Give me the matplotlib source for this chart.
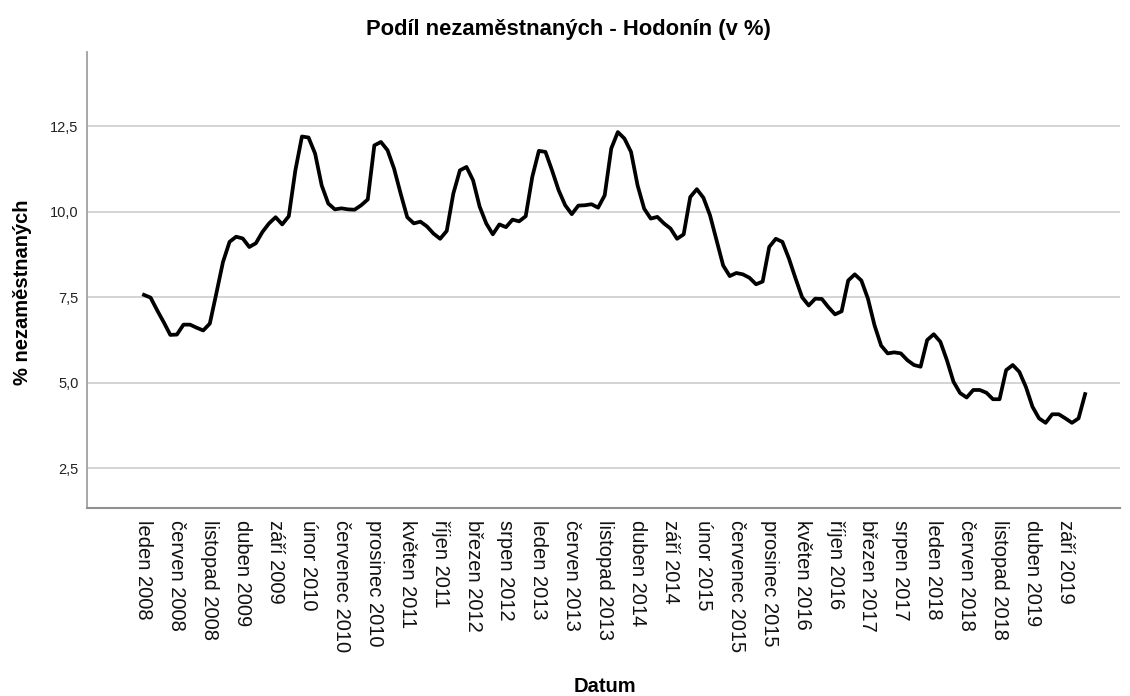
import matplotlib
matplotlib.use("Agg")
import matplotlib.pyplot as plt
import numpy as np

plt.rcParams['font.family'] = ['Liberation Sans', 'DejaVu Sans']

title = "Podíl nezaměstnaných - Hodonín (v %)"
x_label = "Datum"
y_label = "% nezaměstnaných"

# monthly share of unemployed, leden 2008 .. prosinec 2019
values = [
    7.57, 7.49, 7.12, 6.77, 6.40, 6.41, 6.70, 6.70, 6.61, 6.53, 6.73, 7.62,
    8.53, 9.12, 9.27, 9.22, 8.97, 9.08, 9.41, 9.66, 9.84, 9.63, 9.87, 11.21,
    12.20, 12.17, 11.70, 10.77, 10.24, 10.07, 10.10, 10.07, 10.06, 10.19, 10.36, 11.94,
    12.04, 11.80, 11.26, 10.53, 9.84, 9.66, 9.71, 9.57, 9.36, 9.21, 9.44, 10.53,
    11.21, 11.31, 10.92, 10.15, 9.66, 9.34, 9.63, 9.55, 9.77, 9.72, 9.87, 11.02,
    11.78, 11.75, 11.21, 10.63, 10.19, 9.93, 10.18, 10.19, 10.22, 10.12, 10.48, 11.85,
    12.33, 12.14, 11.75, 10.77, 10.09, 9.80, 9.85, 9.66, 9.51, 9.21, 9.34, 10.43,
    10.66, 10.41, 9.90, 9.16, 8.43, 8.12, 8.21, 8.17, 8.07, 7.88, 7.96, 8.97,
    9.21, 9.12, 8.63, 8.05, 7.50, 7.26, 7.46, 7.45, 7.21, 7.00, 7.09, 7.99,
    8.17, 7.99, 7.46, 6.68, 6.09, 5.86, 5.89, 5.86, 5.66, 5.52, 5.47, 6.25,
    6.42, 6.20, 5.66, 5.03, 4.70, 4.57, 4.79, 4.79, 4.71, 4.52, 4.52, 5.37,
    5.52, 5.32, 4.88, 4.30, 3.96, 3.83, 4.08, 4.08, 3.96, 3.83, 3.96, 4.67,
]

tick_labels = [
    "leden 2008", "červen 2008", "listopad 2008", "duben 2009", "září 2009",
    "únor 2010", "červenec 2010", "prosinec 2010", "květen 2011", "říjen 2011",
    "březen 2012", "srpen 2012", "leden 2013", "červen 2013", "listopad 2013",
    "duben 2014", "září 2014", "únor 2015", "červenec 2015", "prosinec 2015",
    "květen 2016", "říjen 2016", "březen 2017", "srpen 2017", "leden 2018",
    "červen 2018", "listopad 2018", "duben 2019", "září 2019",
]
tick_step = 5  # months between labels

y_ticks = [2.5, 5.0, 7.5, 10.0, 12.5]

fig = plt.figure(figsize=(11.3, 6.96), dpi=100)
ax = fig.add_axes([87/1130, 1 - 508/696, (1120 - 87)/1130, (508 - 52)/696])

x = np.arange(len(values))
ax.plot(x, values, color='black', linewidth=2.7, solid_joinstyle='round', zorder=3)

ax.set_xlim(-8.66, 148.3)
ax.set_ylim(1.34, 14.67)

ax.set_yticks(y_ticks)
ax.set_yticklabels([f"{v:.1f}".replace('.', ',') for v in y_ticks], fontsize=10.5, color='#222222')
ax.yaxis.grid(True, color='#d4d4d4', linewidth=1.4, zorder=0)
ax.set_axisbelow(True)

pos = np.arange(len(tick_labels)) * tick_step
ax.set_xticks(pos)
ax.set_xticklabels(tick_labels, rotation=270, fontsize=14.5, va='top', ha='center', color='#111111')

ax.tick_params(axis='both', length=0)
ax.tick_params(axis='y', pad=6)
ax.tick_params(axis='x', pad=9)

for s in ['top', 'right']:
    ax.spines[s].set_visible(False)
ax.spines['left'].set_color('#a0a0a0')
ax.spines['left'].set_linewidth(1.3)
ax.spines['bottom'].set_color('#909090')
ax.spines['bottom'].set_linewidth(1.5)

fig.text(568/1130, 1 - 30/696, title, ha='center', va='center', fontsize=15.8, fontweight='bold')
fig.text(605/1130, 1 - 686/696, x_label, ha='center', va='center', fontsize=14.5, fontweight='bold')
fig.text(23/1130, 1 - 292/696, y_label, ha='center', va='center', rotation=90, fontsize=14.5, fontweight='bold')

fig.savefig("out.png", dpi=100, facecolor='white')
